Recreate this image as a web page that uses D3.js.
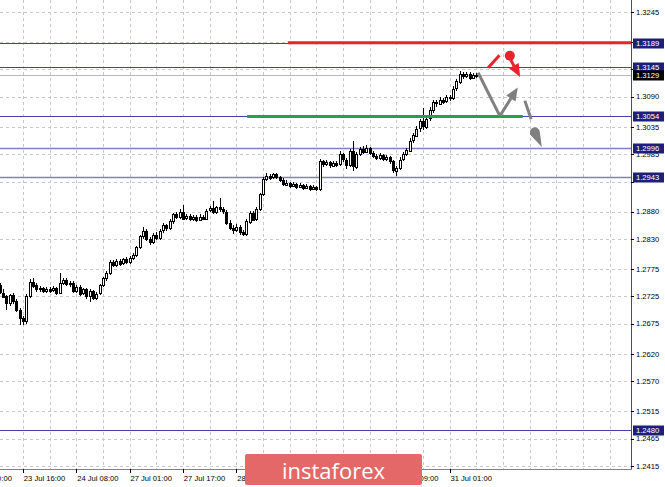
<!DOCTYPE html>
<html><head><meta charset="utf-8">
<script src="https://cdn.jsdelivr.net/npm/d3@7"></script>
<style>html,body{margin:0;padding:0;background:#fff;overflow:hidden}svg{display:block}</style>
</head><body><svg id="c" width="665" height="487"></svg>
<script>
// ---------- DATA ----------
const priceTicks = [1.3245,1.3190,1.3140,1.3090,1.3035,1.2985,1.2935,1.2880,1.2830,1.2775,1.2725,1.2675,1.2620,1.2570,1.2515,1.2465,1.2415];
const levelLines = [1.3189,1.3145,1.3054,1.2996,1.2943,1.2480];
const levelStyle = ["dark","dark","dark","light","light","dark"];
const bidPrice = 1.3129;
const timeLabels = ["23 Jul 00:00","23 Jul 16:00","24 Jul 08:00","27 Jul 01:00","27 Jul 17:00","28 Jul 09:00","29 Jul 01:00","29 Jul 17:00","30 Jul 09:00","31 Jul 01:00"];
const timeLabelBar = [0,16,32,48,64,80,96,112,128,144];
const firstBar = 9;
const open = [1.2745,1.2732,1.2725,1.2712,1.2727,1.2716,1.2700,1.2685,1.2680,1.2726,1.2752,1.2745,1.2738,1.2740,1.2735,1.2739,1.2736,1.2740,1.2731,1.2750,1.2755,1.2748,1.2750,1.2735,1.2742,1.2730,1.2738,1.2725,1.2735,1.2722,1.2730,1.2745,1.2758,1.2768,1.2788,1.2782,1.2790,1.2785,1.2793,1.2788,1.2795,1.2800,1.2815,1.2835,1.2845,1.2830,1.2825,1.2838,1.2832,1.2845,1.2855,1.2850,1.2862,1.2875,1.2870,1.2880,1.2868,1.2872,1.2866,1.2870,1.2865,1.2871,1.2868,1.2882,1.2886,1.2879,1.2888,1.2884,1.2880,1.2860,1.2850,1.2846,1.2852,1.2842,1.2838,1.2862,1.2878,1.2866,1.2885,1.2912,1.2940,1.2946,1.2942,1.2948,1.2943,1.2938,1.2930,1.2933,1.2928,1.2931,1.2926,1.2929,1.2924,1.2927,1.2922,1.2925,1.2921,1.2972,1.2966,1.2970,1.2964,1.2969,1.2966,1.2985,1.2975,1.2965,1.2990,1.2962,1.2985,1.2995,1.2990,1.2997,1.2988,1.2982,1.2978,1.2983,1.2976,1.2979,1.2972,1.2955,1.2960,1.2975,1.2985,1.2992,1.3010,1.3020,1.3032,1.3045,1.3035,1.3050,1.3065,1.3080,1.3078,1.3085,1.3082,1.3090,1.3088,1.3105,1.3118,1.3132,1.3128,1.3132,1.3125,1.3130];
const high = [1.2750,1.2738,1.2728,1.2730,1.2731,1.2720,1.2704,1.2690,1.2729,1.2757,1.2758,1.2749,1.2744,1.2743,1.2743,1.2742,1.2744,1.2743,1.2768,1.2759,1.2758,1.2754,1.2753,1.2746,1.2745,1.2741,1.2740,1.2738,1.2737,1.2733,1.2748,1.2761,1.2771,1.2792,1.2792,1.2794,1.2793,1.2796,1.2797,1.2799,1.2804,1.2818,1.2838,1.2852,1.2848,1.2834,1.2841,1.2842,1.2848,1.2859,1.2858,1.2866,1.2878,1.2879,1.2884,1.2892,1.2876,1.2875,1.2874,1.2873,1.2875,1.2874,1.2885,1.2890,1.2900,1.2891,1.2905,1.2888,1.2883,1.2864,1.2856,1.2858,1.2855,1.2846,1.2866,1.2882,1.2881,1.2889,1.2915,1.2944,1.2950,1.2949,1.2951,1.2950,1.2946,1.2941,1.2937,1.2935,1.2935,1.2933,1.2933,1.2931,1.2931,1.2929,1.2929,1.2927,1.2976,1.2975,1.2974,1.2973,1.2973,1.2972,1.2990,1.2988,1.2978,1.2994,1.3010,1.2989,1.2999,1.3000,1.3001,1.2999,1.2991,1.2985,1.2987,1.2985,1.2983,1.2981,1.2975,1.2964,1.2979,1.2989,1.2996,1.3014,1.3024,1.3036,1.3049,1.3070,1.3054,1.3072,1.3084,1.3084,1.3089,1.3088,1.3094,1.3093,1.3109,1.3122,1.3137,1.3135,1.3136,1.3135,1.3133,1.3134];
const low = [1.2730,1.2722,1.2700,1.2708,1.2712,1.2696,1.2673,1.2672,1.2675,1.2722,1.2741,1.2734,1.2733,1.2731,1.2732,1.2731,1.2733,1.2727,1.2729,1.2746,1.2744,1.2743,1.2731,1.2732,1.2726,1.2727,1.2721,1.2715,1.2719,1.2719,1.2727,1.2742,1.2754,1.2765,1.2778,1.2779,1.2781,1.2782,1.2784,1.2785,1.2791,1.2797,1.2811,1.2830,1.2826,1.2819,1.2821,1.2828,1.2829,1.2841,1.2845,1.2847,1.2858,1.2866,1.2867,1.2864,1.2864,1.2862,1.2863,1.2861,1.2862,1.2864,1.2865,1.2879,1.2875,1.2876,1.2880,1.2876,1.2856,1.2846,1.2840,1.2843,1.2838,1.2836,1.2835,1.2858,1.2862,1.2863,1.2882,1.2908,1.2936,1.2938,1.2939,1.2939,1.2934,1.2926,1.2927,1.2924,1.2925,1.2922,1.2923,1.2920,1.2921,1.2918,1.2919,1.2917,1.2918,1.2962,1.2963,1.2960,1.2961,1.2962,1.2963,1.2971,1.2958,1.2961,1.2955,1.2958,1.2981,1.2986,1.2987,1.2984,1.2978,1.2974,1.2975,1.2972,1.2973,1.2968,1.2951,1.2945,1.2957,1.2972,1.2981,1.2989,1.3006,1.3016,1.3025,1.3030,1.3031,1.3046,1.3061,1.3072,1.3075,1.3077,1.3079,1.3083,1.3085,1.3101,1.3114,1.3122,1.3124,1.3121,1.3122,1.3125];
const close = [1.2732,1.2725,1.2712,1.2727,1.2716,1.2700,1.2685,1.2680,1.2726,1.2752,1.2745,1.2738,1.2740,1.2735,1.2739,1.2736,1.2740,1.2731,1.2750,1.2755,1.2748,1.2750,1.2735,1.2742,1.2730,1.2738,1.2725,1.2735,1.2722,1.2730,1.2745,1.2758,1.2768,1.2788,1.2782,1.2790,1.2785,1.2793,1.2788,1.2795,1.2800,1.2815,1.2835,1.2845,1.2830,1.2825,1.2838,1.2832,1.2845,1.2855,1.2850,1.2862,1.2875,1.2870,1.2880,1.2868,1.2872,1.2866,1.2870,1.2865,1.2871,1.2868,1.2882,1.2886,1.2879,1.2888,1.2884,1.2880,1.2860,1.2850,1.2846,1.2852,1.2842,1.2838,1.2862,1.2878,1.2866,1.2885,1.2912,1.2940,1.2946,1.2942,1.2948,1.2943,1.2938,1.2930,1.2933,1.2928,1.2931,1.2926,1.2929,1.2924,1.2927,1.2922,1.2925,1.2921,1.2972,1.2966,1.2970,1.2964,1.2969,1.2966,1.2985,1.2975,1.2965,1.2990,1.2962,1.2985,1.2995,1.2990,1.2997,1.2988,1.2982,1.2978,1.2983,1.2976,1.2979,1.2972,1.2955,1.2960,1.2975,1.2985,1.2992,1.3010,1.3020,1.3032,1.3045,1.3035,1.3050,1.3065,1.3080,1.3078,1.3085,1.3082,1.3090,1.3088,1.3105,1.3118,1.3132,1.3128,1.3132,1.3125,1.3130,1.3129];
// annotation segments in [bar, price]
const redLevel = {price:1.3189, from:95.5};
const greenLevel = {price:1.3054, from:83.3, to:166};
const redStroke = [[155.6,1.3143],[159.0,1.3166]];
const redDot = [162.1,1.3165];
const redArrow = [[162.4,1.3157],[165.2,1.3126]];
const grayPath = [[152.6,1.3134],[159.1,1.3055]];
const grayArrow = [[159.1,1.3055],[164.5,1.3107]];
const grayStroke = [[166.6,1.3083],[168.5,1.3049]];
const grayDrop = [[169.6,1.3025],[171.7,1.2998]];

// ---------- SCALES ----------
const svg = d3.select("#c");
const W = 665, H = 487, plotR = 631, plotB = 469;
const x = d3.scaleLinear().domain([0,192]).range([-30.5,609.5]);
const y = d3.scaleLinear().domain([1.2415,1.3245]).range([466,12]);
const font = "'Liberation Sans', Arial, sans-serif";
const logo = {x:245, y:454, w:177, h:31};

svg.append("rect").attr("width",W).attr("height",H).attr("fill","#fff");
svg.append("defs").append("clipPath").attr("id","plot").append("rect")
  .attr("x",0).attr("y",0).attr("width",plotR).attr("height",plotB);
const g = svg.append("g").attr("clip-path","url(#plot)");

// grid
const vgrid = d3.range(8,193,8);
g.selectAll(".vg").data(vgrid).join("line")
  .attr("x1",d=>Math.round(x(d))+0.5).attr("x2",d=>Math.round(x(d))+0.5)
  .attr("y1",0).attr("y2",plotB)
  .attr("stroke","#c8c8c8").attr("stroke-dasharray","3,3");
g.selectAll(".hg").data(priceTicks).join("line")
  .attr("x1",0).attr("x2",plotR)
  .attr("y1",d=>Math.round(y(d))+0.5).attr("y2",d=>Math.round(y(d))+0.5)
  .attr("stroke","#c8c8c8").attr("stroke-dasharray","3,3");

// level lines
g.selectAll(".lv").data(levelLines).join("line")
  .attr("x1",0).attr("x2",plotR)
  .attr("y1",d=>Math.round(y(d))+0.5).attr("y2",d=>Math.round(y(d))+0.5)
  .attr("stroke",(d,i)=>levelStyle[i]==="dark"?"#4242aa":"#8080bc")
  .attr("stroke-width",(d,i)=>levelStyle[i]==="dark"?1:1.6);
// bid line
g.append("line").attr("x1",0).attr("x2",plotR)
  .attr("y1",Math.round(y(bidPrice))+0.5).attr("y2",Math.round(y(bidPrice))+0.5)
  .attr("stroke","#b8b8b8");

// candles
const bars = open.map((o,k)=>({i:firstBar+k,o,h:high[k],l:low[k],c:close[k]}));
const cg = g.append("g").attr("shape-rendering","crispEdges");
cg.selectAll(".wick").data(bars).join("line")
  .attr("x1",d=>Math.round(x(d.i))+0.5).attr("x2",d=>Math.round(x(d.i))+0.5)
  .attr("y1",d=>y(d.h)).attr("y2",d=>y(d.l)).attr("stroke","#000");
cg.selectAll(".body").data(bars).join("rect")
  .attr("x",d=>Math.round(x(d.i))-1+0.5)
  .attr("y",d=>Math.round(y(Math.max(d.o,d.c)))+0.5)
  .attr("width",2)
  .attr("height",d=>Math.max(1,Math.round(Math.abs(y(d.o)-y(d.c)))))
  .attr("fill",d=>d.c>=d.o?"#fff":"#000").attr("stroke","#000");

// red / green levels
g.append("line").attr("x1",x(redLevel.from)).attr("x2",plotR)
  .attr("y1",y(redLevel.price)).attr("y2",y(redLevel.price))
  .attr("stroke","#e8232b").attr("stroke-width",3);
g.append("line").attr("x1",x(greenLevel.from)).attr("x2",x(greenLevel.to))
  .attr("y1",y(greenLevel.price)).attr("y2",y(greenLevel.price))
  .attr("stroke","#22a24e").attr("stroke-width",3);

// arrows
function seg(p,col){
  g.append("line").attr("x1",x(p[0][0])).attr("y1",y(p[0][1]))
   .attr("x2",x(p[1][0])).attr("y2",y(p[1][1]))
   .attr("stroke",col).attr("stroke-width",3).attr("stroke-linecap","butt");
}
function arrow(p,col){
  const x1=x(p[0][0]),y1=y(p[0][1]),x2=x(p[1][0]),y2=y(p[1][1]);
  const dx=x2-x1,dy=y2-y1,len=Math.hypot(dx,dy),ux=dx/len,uy=dy/len;
  const hl=13,hw=5.5;
  const bx=x2-ux*hl,by=y2-uy*hl;
  g.append("line").attr("x1",x1).attr("y1",y1).attr("x2",bx+ux*2).attr("y2",by+uy*2)
   .attr("stroke",col).attr("stroke-width",3);
  g.append("path").attr("d",`M${x2},${y2}L${bx-uy*hw},${by+ux*hw}L${bx+uy*hw},${by-ux*hw}Z`)
   .attr("fill",col);
}
seg(redStroke,"#e8232b");
g.append("circle").attr("cx",x(redDot[0])).attr("cy",y(redDot[1])).attr("r",5).attr("fill","#e8232b");
arrow(redArrow,"#e8232b");
seg(grayPath,"#808080");
arrow(grayArrow,"#808080");
seg(grayStroke,"#808080");
(function(){
  const cx=x(grayDrop[0][0]),cy=y(grayDrop[0][1]),tx=x(grayDrop[1][0]),ty=y(grayDrop[1][1]);
  const r=5, dx=tx-cx, dy=ty-cy, L=Math.hypot(dx,dy), ux=dx/L, uy=dy/L;
  const a=Math.acos(r/L);
  const ang=Math.atan2(uy,ux);
  const p1=[cx+r*Math.cos(ang+a),cy+r*Math.sin(ang+a)], p2=[cx+r*Math.cos(ang-a),cy+r*Math.sin(ang-a)];
  g.append("path").attr("d",`M${tx},${ty}L${p1[0]},${p1[1]}A${r},${r} 0 1 1 ${p2[0]},${p2[1]}Z`).attr("fill","#808080");
})();

// border
svg.append("line").attr("x1",plotR+0.5).attr("x2",plotR+0.5).attr("y1",0).attr("y2",plotB+0.5).attr("stroke","#505050");
svg.append("line").attr("x1",0).attr("x2",plotR+0.5).attr("y1",plotB+0.5).attr("y2",plotB+0.5).attr("stroke","#808080");

// right axis
const boxes = levelLines.map(v=>({v,bg:"#1f1f78"})).concat([{v:bidPrice,bg:"#000"}]);
const hidden = v => boxes.some(b=>Math.abs(y(b.v)-y(v))<4.5);
const ra = svg.append("g");
ra.selectAll(".tk").data(priceTicks).join("line")
  .attr("x1",plotR).attr("x2",plotR+3)
  .attr("y1",d=>Math.round(y(d))+0.5).attr("y2",d=>Math.round(y(d))+0.5).attr("stroke","#000");
ra.selectAll(".tl").data(priceTicks.filter(v=>!hidden(v))).join("text")
  .attr("x",plotR+5).attr("y",d=>y(d)+2.7)
  .attr("font-family",font).attr("font-size",7.6).attr("fill","#000")
  .text(d=>d.toFixed(4));
const bx = ra.selectAll(".bx").data(boxes).join("g");
bx.append("rect").attr("x",plotR+2).attr("y",d=>Math.round(y(d.v))-4.5).attr("width",31).attr("height",10).attr("fill",d=>d.bg);
bx.append("text").attr("x",plotR+5).attr("y",d=>y(d.v)+3)
  .attr("font-family",font).attr("font-size",7.6).attr("fill","#fff").text(d=>d.v.toFixed(4));

// bottom axis (labels fully covered by the logo are not drawn)
const ba = svg.append("g");
ba.selectAll(".bt").data(timeLabelBar).join("line")
  .attr("x1",d=>Math.round(x(d))+0.5).attr("x2",d=>Math.round(x(d))+0.5)
  .attr("y1",plotB).attr("y2",plotB+4).attr("stroke","#000");
const visibleLabels = timeLabelBar.map((b,i)=>({b,t:timeLabels[i]}))
  .filter(d=>!(x(d.b)+1>=logo.x && x(d.b)+42<=logo.x+logo.w));
ba.selectAll(".bl").data(visibleLabels).join("text")
  .attr("x",d=>x(d.b)+1).attr("y",plotB+12)
  .attr("font-family",font).attr("font-size",7.6).attr("fill","#000")
  .text(d=>d.t);

// logo
const lg = svg.append("g");
lg.append("rect").attr("x",logo.x).attr("y",logo.y).attr("width",logo.w).attr("height",logo.h).attr("rx",2)
  .attr("fill","#e46868");
lg.append("text").attr("x",logo.x+logo.w/2).attr("y",logo.y+24.5).attr("text-anchor","middle")
  .attr("font-family","'Open Sans', Lato, sans-serif").attr("font-size",22).attr("fill","#fff")
  .text("instaforex");
</script></body></html>
